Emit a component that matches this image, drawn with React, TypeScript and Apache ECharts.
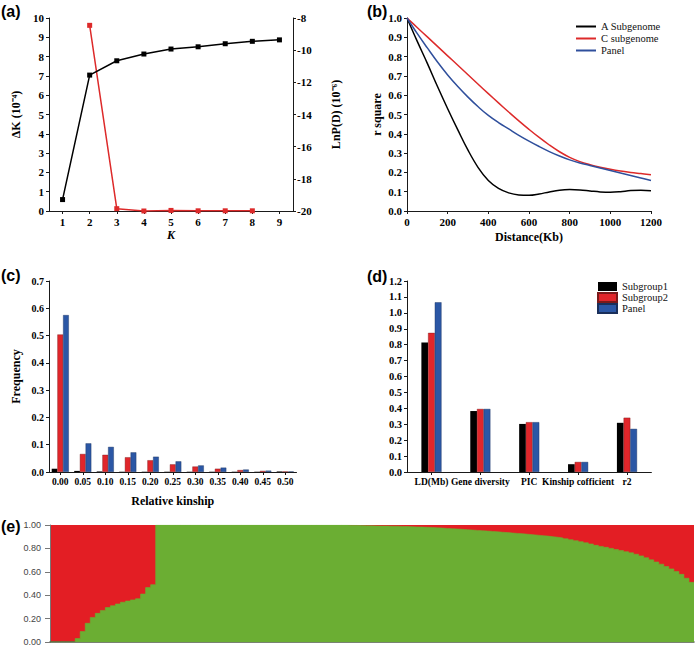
import React, { useEffect, useRef } from 'react';
import * as echarts from 'echarts';

// ---------- (a) STRUCTURE K ----------
const K_VALUES = ['1', '2', '3', '4', '5', '6', '7', '8', '9'];
const DELTA_K = [null, 9.62, 0.12, 0.0, 0.03, 0.01, 0.01, 0.01, null];
const LNP_D = [-19.29, -11.55, -10.66, -10.24, -9.93, -9.79, -9.6, -9.45, -9.36];

// ---------- (b) LD decay ----------
const DISTANCE_KB = [0, 50, 100, 150, 200, 250, 300, 350, 400, 450, 500, 550, 600, 650, 700, 750, 800, 850, 900, 950, 1000, 1050, 1100, 1150, 1200];
const R2_A_SUB = [1.0, 0.88, 0.765, 0.645, 0.53, 0.42, 0.315, 0.225, 0.158, 0.117, 0.094, 0.083, 0.081, 0.088, 0.099, 0.108, 0.111, 0.109, 0.104, 0.099, 0.097, 0.1, 0.106, 0.107, 0.105];
const R2_C_SUB = [1.0, 0.951, 0.902, 0.853, 0.804, 0.755, 0.706, 0.657, 0.608, 0.56, 0.513, 0.467, 0.423, 0.381, 0.342, 0.307, 0.278, 0.256, 0.24, 0.227, 0.216, 0.207, 0.2, 0.194, 0.188];
const R2_PANEL = [1.0, 0.92, 0.845, 0.772, 0.705, 0.645, 0.59, 0.54, 0.495, 0.458, 0.425, 0.392, 0.362, 0.334, 0.308, 0.285, 0.265, 0.249, 0.236, 0.223, 0.21, 0.197, 0.184, 0.171, 0.158];

// ---------- (c) relative kinship ----------
const KINSHIP_BINS = ['0.00', '0.05', '0.10', '0.15', '0.20', '0.25', '0.30', '0.35', '0.40', '0.45', '0.50'];
const KIN_SUB1 = [0.012, 0.004, 0.002, 0.001, 0.001, 0.001, 0.001, 0.001, 0.001, 0.001, 0.002];
const KIN_SUB2 = [0.504, 0.066, 0.063, 0.054, 0.043, 0.028, 0.02, 0.012, 0.007, 0.004, 0.002];
const KIN_PANEL = [0.575, 0.105, 0.092, 0.072, 0.056, 0.039, 0.024, 0.016, 0.009, 0.005, 0.002];

// ---------- (d) diversity stats ----------
const STAT_NAMES = ['LD(Mb)', 'Gene diversity', 'PIC', 'Kinship cofficient', 'r2'];
const STAT_SUB1 = [0.813, 0.383, 0.302, 0.049, 0.309];
const STAT_SUB2 = [0.874, 0.396, 0.313, 0.063, 0.341];
const STAT_PANEL = [1.066, 0.396, 0.313, 0.063, 0.271];

// ---------- (e) population structure (green membership per accession, sorted) ----------
const GREEN_Q = [
  0, 0, 0, 0, 0, 0.03, 0.09, 0.16, 0.21, 0.245,
  0.27, 0.295, 0.31, 0.325, 0.34, 0.35, 0.36, 0.37, 0.41, 0.465,
  0.49, 1, 1, 1, 1, 1, 1, 1, 1, 1,
  1, 1, 1, 1, 1, 1, 1, 1, 1, 1,
  1, 1, 1, 1, 1, 1, 1, 1, 1, 1,
  1, 1, 1, 1, 1, 1, 1, 1, 1, 0.998,
  0.997, 0.995, 0.994, 0.993, 0.992, 0.991, 0.991, 0.99, 0.99, 0.988,
  0.987, 0.985, 0.983, 0.982, 0.98, 0.979, 0.976, 0.974, 0.971, 0.968,
  0.966, 0.963, 0.96, 0.957, 0.954, 0.951, 0.948, 0.945, 0.942, 0.938,
  0.935, 0.931, 0.928, 0.925, 0.921, 0.917, 0.913, 0.909, 0.905, 0.9,
  0.895, 0.889, 0.882, 0.874, 0.866, 0.857, 0.848, 0.838, 0.826, 0.817,
  0.809, 0.8, 0.79, 0.781, 0.772, 0.762, 0.75, 0.736, 0.72, 0.702,
  0.684, 0.665, 0.645, 0.625, 0.603, 0.578, 0.545, 0.51,
];

const SERIF = '"Liberation Serif", "Times New Roman", serif';
const SANS = '"Liberation Sans", Arial, sans-serif';
const RED = '#e0262b';
const BLUE = '#2b57a5';
const LINE_RED = '#dd2a2a';
const LINE_BLUE = '#2f4f9c';
const GREEN = '#6bae33';
const AX = '#1a1a1a';

const axisLine = { show: true, lineStyle: { color: AX, width: 1 } };
const tick = (len = 3) => ({ show: true, length: len, lineStyle: { color: AX, width: 1 } });
const lbl = (size = 11, margin = 5, extra: any = {}) => ({
  fontFamily: SERIF, fontWeight: 'bold', fontSize: size, color: '#000', margin, ...extra,
});
const nameStyle = { fontFamily: SERIF, fontWeight: 'bold', fontSize: 12, color: '#000' };

export default function App() {
  const ref = useRef<HTMLDivElement>(null);
  useEffect(() => {
    if (!ref.current) return;
    const chart = echarts.init(ref.current, null, { renderer: 'svg' });
    const n = GREEN_Q.length;
    // step area: each accession occupies [i, i+1]; closing point repeats the last accession's value
    const structurePts = GREEN_Q.map((g, i) => [i, g]).concat([[n, GREEN_Q[n - 1]]]);
    const option: any = {
      animation: false,
      backgroundColor: '#fff',
      grid: [
        { left: 49, top: 18, width: 244, height: 193 },
        { left: 407, top: 18, width: 244, height: 193 },
        { left: 49, top: 281, width: 247.5, height: 191 },
        { left: 407, top: 281, width: 244.4, height: 191 },
        { left: 50, top: 525, width: 644, height: 117, show: true, backgroundColor: '#e31e24', borderWidth: 0 },
      ],
      legend: [
        {
          orient: 'vertical', left: 571, top: 16, itemWidth: 20, itemHeight: 2, itemGap: 1, icon: 'rect',
          selectedMode: false, data: ['A Subgenome', 'C subgenome', 'Panel'],
          textStyle: { fontFamily: SERIF, fontSize: 10.5, color: '#111' },
        },
        {
          orient: 'vertical', left: 592, top: 276, itemWidth: 19, itemHeight: 9, itemGap: 0, icon: 'rect',
          selectedMode: false, data: ['Subgroup1', 'Subgroup2', 'Panel '],
          textStyle: { fontFamily: SERIF, fontSize: 10.5, color: '#111' },
        },
      ],
      xAxis: [
        {
          gridIndex: 0, type: 'category', data: K_VALUES, boundaryGap: true,
          axisLine, axisTick: { ...tick(3), alignWithLabel: true }, axisLabel: lbl(11, 5),
          name: 'K', nameLocation: 'middle', nameGap: 18,
          nameTextStyle: { ...nameStyle, fontStyle: 'italic' },
        },
        {
          gridIndex: 1, type: 'value', min: 0, max: 1200, interval: 200, splitLine: { show: false },
          axisLine, axisTick: tick(3), axisLabel: { ...lbl(11, 5), formatter: (v: number) => String(v) },
          name: 'Distance(Kb)', nameLocation: 'middle', nameGap: 20, nameTextStyle: nameStyle,
        },
        {
          gridIndex: 2, type: 'category', data: KINSHIP_BINS, boundaryGap: true,
          axisLine, axisTick: { ...tick(3), alignWithLabel: true }, axisLabel: lbl(9.5, 5, { interval: 0 }),
          name: 'Relative kinship', nameLocation: 'middle', nameGap: 23, nameTextStyle: nameStyle,
        },
        {
          gridIndex: 3, type: 'category', data: STAT_NAMES, boundaryGap: true,
          axisLine, axisTick: { ...tick(3), alignWithLabel: true }, axisLabel: lbl(9.5, 5, { interval: 0 }),
        },
        {
          gridIndex: 4, type: 'value', min: 0, max: n,
          splitLine: { show: false },
          axisLine: { show: true, lineStyle: { color: '#4d5a44', width: 1.5 } },
          axisTick: { show: false }, axisLabel: { show: false },
        },
      ],
      yAxis: [
        {
          gridIndex: 0, type: 'value', min: 0, max: 10, interval: 1, position: 'left', splitLine: { show: false },
          axisLine, axisTick: tick(3), axisLabel: lbl(11, 5),
          name: 'ΔK (10⁻⁴)', nameLocation: 'middle', nameRotate: 90, nameGap: 27, nameTextStyle: nameStyle,
        },
        {
          gridIndex: 0, type: 'value', min: -20, max: -8, interval: 2, position: 'right', splitLine: { show: false },
          axisLine, axisTick: tick(3), axisLabel: lbl(11, 4),
          name: 'LnP(D) (10⁻⁶)', nameLocation: 'middle', nameRotate: 90, nameGap: 37, nameTextStyle: nameStyle,
        },
        {
          gridIndex: 1, type: 'value', min: 0, max: 1, interval: 0.1, splitLine: { show: false },
          axisLine, axisTick: tick(3), axisLabel: { ...lbl(11, 5), formatter: (v: number) => v.toFixed(1) },
          name: 'r square', nameLocation: 'middle', nameRotate: 90, nameGap: 24, nameTextStyle: nameStyle,
        },
        {
          gridIndex: 2, type: 'value', min: 0, max: 0.7, interval: 0.1, splitLine: { show: false },
          axisLine, axisTick: tick(3), axisLabel: { ...lbl(10, 5), formatter: (v: number) => v.toFixed(1) },
          name: 'Frequency', nameLocation: 'middle', nameRotate: 90, nameGap: 27, nameTextStyle: nameStyle,
        },
        {
          gridIndex: 3, type: 'value', min: 0, max: 1.2, interval: 0.1, splitLine: { show: false },
          axisLine, axisTick: tick(3), axisLabel: { ...lbl(10.5, 5), formatter: (v: number) => v.toFixed(1) },
        },
        {
          gridIndex: 4, type: 'value', min: 0, max: 1, interval: 0.2, splitLine: { show: false },
          axisLine: { show: true, lineStyle: { color: '#777', width: 1 } },
          axisTick: { show: true, length: 5, lineStyle: { color: '#777' } },
          axisLabel: { fontFamily: SANS, fontSize: 9, color: '#444', margin: 9, formatter: (v: number) => v.toFixed(2) },
        },
      ],
      series: [
        // (a)
        {
          name: 'ΔK', type: 'line', xAxisIndex: 0, yAxisIndex: 0, data: DELTA_K,
          symbol: 'rect', symbolSize: 5, color: LINE_RED, lineStyle: { width: 1.5, color: LINE_RED },
          itemStyle: { color: LINE_RED },
        },
        {
          name: 'LnP(D)', type: 'line', xAxisIndex: 0, yAxisIndex: 1, data: LNP_D,
          symbol: 'rect', symbolSize: 5, color: '#000', lineStyle: { width: 1.5, color: '#000' },
          itemStyle: { color: '#000' },
        },
        // (b)
        {
          name: 'A Subgenome', type: 'line', xAxisIndex: 1, yAxisIndex: 2, smooth: 0.4, showSymbol: false,
          data: DISTANCE_KB.map((d, i) => [d, R2_A_SUB[i]]), color: '#000', lineStyle: { width: 1.5, color: '#000' },
        },
        {
          name: 'C subgenome', type: 'line', xAxisIndex: 1, yAxisIndex: 2, smooth: 0.4, showSymbol: false,
          data: DISTANCE_KB.map((d, i) => [d, R2_C_SUB[i]]), color: LINE_RED, lineStyle: { width: 1.5, color: LINE_RED },
        },
        {
          name: 'Panel', type: 'line', xAxisIndex: 1, yAxisIndex: 2, smooth: 0.4, showSymbol: false,
          data: DISTANCE_KB.map((d, i) => [d, R2_PANEL[i]]), color: LINE_BLUE, lineStyle: { width: 1.5, color: LINE_BLUE },
        },
        // (c)
        {
          name: 'Kinship Subgroup1', type: 'bar', xAxisIndex: 2, yAxisIndex: 3, data: KIN_SUB1,
          barWidth: 5.7, barGap: '0%', itemStyle: { color: '#000' },
        },
        {
          name: 'Kinship Subgroup2', type: 'bar', xAxisIndex: 2, yAxisIndex: 3, data: KIN_SUB2,
          barWidth: 5.7, barGap: '0%', itemStyle: { color: RED, borderColor: '#7a1a1a', borderWidth: 0.4 },
        },
        {
          name: 'Kinship Panel', type: 'bar', xAxisIndex: 2, yAxisIndex: 3, data: KIN_PANEL,
          barWidth: 5.7, barGap: '0%', itemStyle: { color: BLUE, borderColor: '#1a2f5a', borderWidth: 0.4 },
        },
        // (d)
        {
          name: 'Subgroup1', type: 'bar', xAxisIndex: 3, yAxisIndex: 4, data: STAT_SUB1,
          barWidth: 6.7, barGap: '0%', itemStyle: { color: '#000' },
        },
        {
          name: 'Subgroup2', type: 'bar', xAxisIndex: 3, yAxisIndex: 4, data: STAT_SUB2,
          barWidth: 6.7, barGap: '0%', itemStyle: { color: RED, borderColor: '#7a1a1a', borderWidth: 0.4 },
        },
        {
          name: 'Panel ', type: 'bar', xAxisIndex: 3, yAxisIndex: 4, data: STAT_PANEL,
          barWidth: 6.7, barGap: '0%', itemStyle: { color: BLUE, borderColor: '#1a2f5a', borderWidth: 0.4 },
        },
        // (e)
        {
          name: 'Green cluster', type: 'line', xAxisIndex: 4, yAxisIndex: 5, data: structurePts,
          step: 'end', showSymbol: false, symbol: 'none',
          lineStyle: { width: 0.6, color: GREEN }, areaStyle: { color: GREEN, opacity: 1 },
          color: GREEN, z: 1,
        },
      ],
      graphic: [
        { type: 'text', x: 1, y: 11, style: { text: '(a)', font: 'bold 16px "Liberation Sans"', fill: '#000', textVerticalAlign: 'middle' } },
        { type: 'text', x: 367, y: 11, style: { text: '(b)', font: 'bold 16px "Liberation Sans"', fill: '#000', textVerticalAlign: 'middle' } },
        { type: 'text', x: 1, y: 275, style: { text: '(c)', font: 'bold 16px "Liberation Sans"', fill: '#000', textVerticalAlign: 'middle' } },
        { type: 'text', x: 367, y: 276, style: { text: '(d)', font: 'bold 16px "Liberation Sans"', fill: '#000', textVerticalAlign: 'middle' } },
        { type: 'text', x: 1, y: 526, style: { text: '(e)', font: 'bold 16px "Liberation Sans"', fill: '#000', textVerticalAlign: 'middle' } },
      ],
    };
    chart.setOption(option);
    return () => chart.dispose();
  }, []);
  return (
    <div
      ref={ref}
      style={{ position: 'fixed', left: 0, top: 0, width: 698, height: 648, background: '#fff' }}
    />
  );
}
